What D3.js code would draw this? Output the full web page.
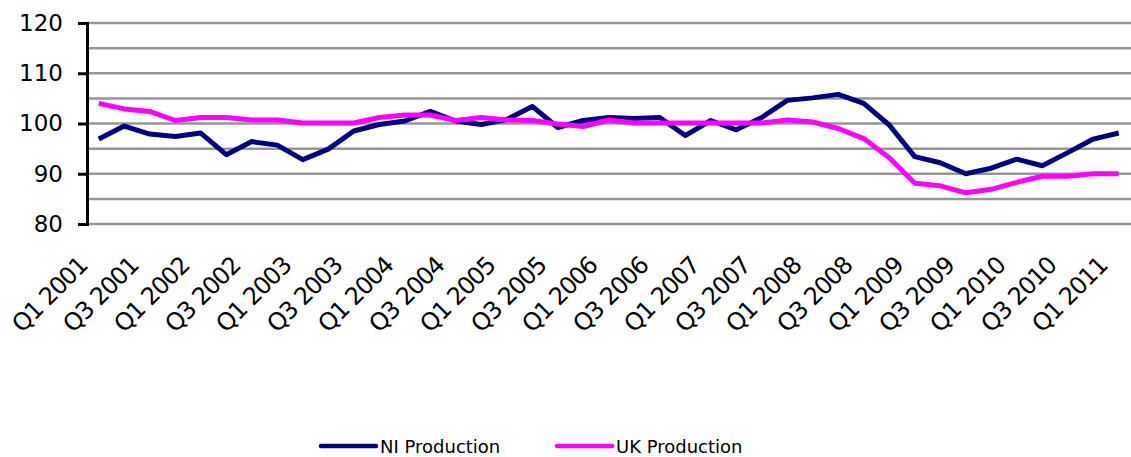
<!DOCTYPE html>
<html lang="en">
<head>
<meta charset="utf-8">
<title>NI and UK Production</title>
<script src="https://d3js.org/d3.v7.min.js"></script>
<style>
  body { margin: 0; background: #fff; }
  text { font-family: "DejaVu Sans", Verdana, sans-serif; fill: #000; }
</style>
</head>
<body>
<script>
// quarters Q1 2001 .. Q1 2011
var quarters = [];
for (var yr = 2001; yr <= 2011; yr++) {
  for (var q = 1; q <= 4; q++) {
    if (yr === 2011 && q > 1) break;
    quarters.push("Q" + q + " " + yr);
  }
}

var niProduction = [96.9, 99.5, 97.9, 97.4, 98.1, 93.8, 96.4, 95.7, 92.8, 94.9,
                    98.5, 99.8, 100.5, 102.4, 100.5, 99.8, 100.8, 103.4, 99.2, 100.6,
                    101.2, 101.0, 101.2, 97.6, 100.6, 98.75, 101.2, 104.6, 105.1, 105.8,
                    104.0, 99.7, 93.4, 92.2, 90.0, 91.1, 92.9, 91.6, 94.2, 96.9, 98.1];

var ukProduction = [104.0, 102.9, 102.4, 100.6, 101.2, 101.2, 100.7, 100.7, 100.1, 100.1,
                    100.1, 101.2, 101.7, 101.7, 100.6, 101.2, 100.7, 100.6, 99.9, 99.4,
                    100.7, 100.1, 100.1, 100.1, 100.1, 100.1, 100.1, 100.7, 100.3, 99.0,
                    97.0, 93.2, 88.1, 87.6, 86.2, 86.9, 88.3, 89.5, 89.5, 90.0, 90.0];

var yTicks = [80, 85, 90, 95, 100, 105, 110, 115, 120];
var yLabels = [80, 90, 100, 110, 120];

var W = 1131, H = 457;
var plotLeft = 86, plotRight = 1131.5, plotTop = 23, plotBottom = 224;

var svg = d3.select("body").append("svg")
  .attr("width", W)
  .attr("height", H);

var x = d3.scaleBand().domain(quarters).range([plotLeft, plotRight]).padding(0);
var y = d3.scaleLinear().domain([80, 120]).range([plotBottom, plotTop]);
var cx = function(d) { return x(d) + x.bandwidth() / 2; };

// gridlines
svg.append("g").selectAll("line")
  .data(yTicks)
  .enter().append("line")
  .attr("x1", plotLeft).attr("x2", W)
  .attr("y1", function(d) { return y(d); })
  .attr("y2", function(d) { return y(d); })
  .attr("stroke", "#969696")
  .attr("stroke-width", 2.5);

// y axis
var yAxis = d3.axisLeft(y).tickValues(yLabels).tickSize(9).tickPadding(15);
var ga = svg.append("g")
  .attr("transform", "translate(" + (plotLeft + 1) + ",0)")
  .call(yAxis);
ga.select(".domain").attr("stroke", "#000").attr("stroke-width", 3);
ga.selectAll(".tick line").attr("stroke", "#000").attr("stroke-width", 3);
ga.selectAll(".tick text")
  .attr("font-size", 23)
  .attr("font-family", "DejaVu Sans, sans-serif")
  .attr("fill", "#000");

// x labels (every other quarter)
svg.append("g").selectAll("text")
  .data(quarters.filter(function(d, i) { return i % 2 === 0; }))
  .enter().append("text")
  .attr("transform", function(d) {
    return "translate(" + (cx(d) - 10) + ",267) rotate(-45)";
  })
  .attr("text-anchor", "end")
  .attr("font-size", 24)
  .attr("letter-spacing", -1.2)
  .text(function(d) { return d; });

// lines
var line = d3.line()
  .x(function(d, i) { return cx(quarters[i]); })
  .y(function(d) { return y(d); });

var series = [
  { name: "NI Production", values: niProduction, color: "#000080" },
  { name: "UK Production", values: ukProduction, color: "#FF00FF" }
];

svg.append("g").selectAll("path")
  .data(series)
  .enter().append("path")
  .attr("d", function(d) { return line(d.values); })
  .attr("fill", "none")
  .attr("stroke", function(d) { return d.color; })
  .attr("stroke-width", 5)
  .attr("stroke-linejoin", "round");

// legend
var legX = [321, 557];
var leg = svg.append("g").selectAll("g")
  .data(series)
  .enter().append("g")
  .attr("transform", function(d, i) { return "translate(" + legX[i] + ",446)"; });

leg.append("line")
  .attr("x1", 0).attr("x2", 55)
  .attr("stroke", function(d) { return d.color; })
  .attr("stroke-width", 4.5)
  .attr("stroke-linecap", "round");

leg.append("text")
  .attr("x", 59)
  .attr("y", 7)
  .attr("font-size", 18)
  .text(function(d) { return d.name; });
</script>
</body>
</html>
